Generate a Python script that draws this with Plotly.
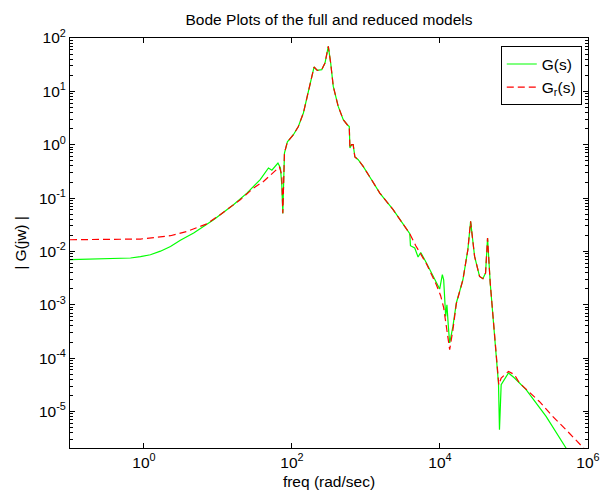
import plotly.graph_objects as go

# ---- data ----
freq_G = [0.1, 0.354, 0.484, 0.658, 0.897, 1.22, 1.67, 2.28, 3.10, 4.69, 8.73, 16.2, 24.6, 37.2,
          48.1, 53.5, 64.6, 69.8, 72.8, 75.2, 79.1, 86.7, 104.5, 121.9,
          142.6, 166.3, 184.9, 198.6, 219.8, 252.4, 279.3, 309.7, 333.4, 361.4,
          421.7, 493.3, 558.5, 594.3, 606.7, 639.7, 671.4, 707.9, 785.2, 916.2,
          1189, 1538, 2328, 3908, 3990, 4560, 5058, 5495, 6561, 8933,
          9908, 10765, 11220, 11940, 12417, 12972, 13521, 14962, 16634, 20417,
          23823, 25942, 29376, 34277, 38019, 41305, 43954, 47753, 51761, 57544,
          61802, 63680, 67143, 84333, 101624, 145881, 271644, 504661, 707946]
mag_G = [0.00699, 0.00721, 0.00736, 0.00752, 0.00796, 0.00867, 0.0101, 0.0124, 0.0162, 0.0221, 0.0393, 0.0750, 0.124, 0.221,
         0.366, 0.333, 0.454, 0.366, 0.178, 0.0515, 0.698, 1.13, 1.54, 2.20,
         3.93, 9.31, 19.1, 28.6, 24.7, 25.5, 34.0, 69.6, 34.0, 12.4,
         5.22, 2.94, 2.37, 2.20, 0.867, 1.0, 1.0, 0.588, 0.524, 0.392,
         0.221, 0.124, 0.0605, 0.0215, 0.0128, 0.0116, 0.00785, 0.00957, 0.00607, 0.00256,
         0.00197, 0.00366, 0.00294, 0.000605, 0.001, 0.000393, 0.000192, 0.000393, 0.00108, 0.00294,
         0.0108, 0.0365, 0.00805, 0.0034, 0.00308, 0.00394, 0.0178, 0.00256, 0.0007, 0.000125,
         3.31e-5, 4.55e-6, 3.17e-5, 5.26e-5, 4.24e-5, 2.56e-5, 8.07e-6, 2.07e-6, 9.8e-7]

freq_Gr = [0.1, 0.354, 0.897, 2.28, 3.82, 7.11, 10.7, 20.0, 30.2, 41.2,
           59.2, 67.6, 72.8, 75.2, 79.1, 86.7, 104.5, 121.9,
           142.6, 166.3, 184.9, 198.6, 219.8, 252.4, 279.3, 309.7, 333.4, 361.4,
           421.7, 493.3, 558.5, 594.3, 606.7, 639.7, 671.4, 707.9, 785.2, 916.2,
           1189, 1538, 2328, 3908, 4710, 5495, 6561, 8933, 10209, 11220,
           12417, 13521, 14962, 16634, 20417,
           23823, 25942, 29376, 34277, 38019, 41305, 43954, 47753, 51761, 57544,
           62373, 67143, 84333, 101624, 118577, 220290, 333426, 504661, 805378, 1.0e6]
mag_Gr = [0.01656, 0.01656, 0.01706, 0.0197, 0.0237, 0.033, 0.0488, 0.0931, 0.154, 0.205,
          0.316, 0.382, 0.274, 0.052, 0.698, 1.13, 1.54, 2.20,
          3.93, 9.31, 19.1, 28.6, 24.7, 25.5, 34.0, 69.6, 34.0, 12.4,
          5.22, 2.94, 2.37, 2.20, 0.867, 1.0, 1.0, 0.588, 0.524, 0.392,
          0.221, 0.124, 0.0605, 0.0215, 0.0128, 0.00867, 0.00588, 0.00238, 0.00148, 0.00088,
          0.000313, 0.000144, 0.00034, 0.00105, 0.00294,
          0.0108, 0.0365, 0.00805, 0.0034, 0.00308, 0.00394, 0.0178, 0.00256, 0.0007, 0.000125,
          3.17e-5, 4.24e-5, 5.64e-5, 4.89e-5, 3.41e-5, 1.54e-5, 8.07e-6, 4.55e-6, 2.38e-6, 1.69e-6]

x_tick_vals = [1, 1e2, 1e4, 1e6]
x_tick_text = ["10<sup>0</sup>", "10<sup>2</sup>", "10<sup>4</sup>", "10<sup>6</sup>"]
y_tick_vals = [1e-5, 1e-4, 1e-3, 1e-2, 1e-1, 1, 1e1, 1e2]
y_tick_text = ["10<sup>-5</sup>", "10<sup>-4</sup>", "10<sup>-3</sup>", "10<sup>-2</sup>",
               "10<sup>-1</sup>", "10<sup>0</sup>", "10<sup>1</sup>", "10<sup>2</sup>"]
y_minor_vals = [m * 10.0 ** e for e in range(-6, 2) for m in range(2, 10)]

FONT = "Liberation Sans, Arial, Helvetica, sans-serif"
FS = 15.5

fig = go.Figure()
fig.add_trace(go.Scatter(x=freq_G, y=mag_G, mode="lines", name="G(s)",
                         line=dict(color="#00ff00", width=1.2)))
fig.add_trace(go.Scatter(x=freq_Gr, y=mag_Gr, mode="lines", name="G<sub>r</sub>(s)",
                         line=dict(color="#ff0000", width=1.2, dash="7px,4px")))

axis_common = dict(type="log", showgrid=False, zeroline=False, showline=True,
                   linecolor="black", linewidth=1, ticks="inside", ticklen=5,
                   tickcolor="black", mirror="allticks", automargin=False,
                   tickfont=dict(family=FONT, size=FS, color="black"))

fig.update_layout(
    width=602, height=497,
    margin=dict(l=70, r=14, t=38, b=49),
    paper_bgcolor="white", plot_bgcolor="white",
    font=dict(family=FONT, size=FS, color="black"),
    title=dict(text="Bode Plots of the full and reduced models", x=0.5, xref="paper",
               y=1 - 20 / 497, yref="container", yanchor="middle",
               font=dict(family=FONT, size=FS, color="black")),
    xaxis=dict(axis_common, range=[-1, 6.0005], tickmode="array",
               tickvals=x_tick_vals, ticktext=x_tick_text,
               title=dict(text="freq (rad/sec)", standoff=6,
                          font=dict(family=FONT, size=FS))),
    yaxis=dict(axis_common, range=[-5.685, 2.0005], tickmode="array",
               tickvals=y_tick_vals, ticktext=y_tick_text,
               minor=dict(tickmode="array", tickvals=y_minor_vals, ticks="inside",
                          ticklen=3, tickcolor="black", showgrid=False),
               title=dict(text="| G(jw) |", standoff=8,
                          font=dict(family=FONT, size=FS))),
    legend=dict(x=0.988, y=0.9795, xanchor="right", yanchor="top",
                bordercolor="black", borderwidth=1, bgcolor="white",
                font=dict(family=FONT, size=FS, color="black"),
                tracegroupgap=0),
    showlegend=True,
)

fig.write_html("out.html")
